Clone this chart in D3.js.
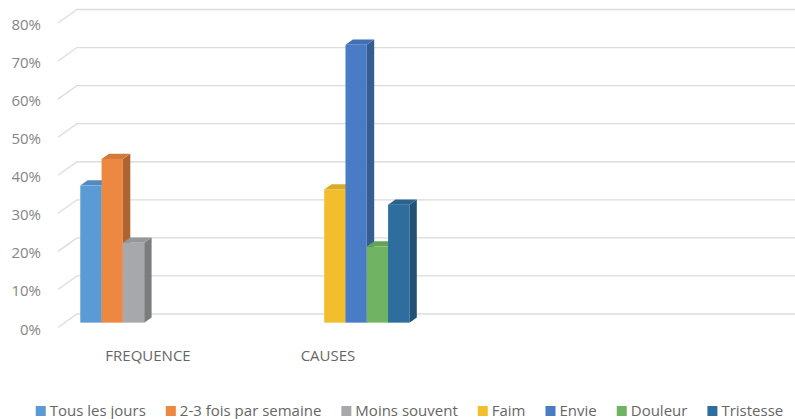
<!DOCTYPE html>
<html lang="fr">
<head>
  <meta charset="UTF-8">
  <title>Fréquence et causes</title>
  <script src="https://d3js.org/d3.v7.min.js"></script>
  <style>
    body {
      margin: 0;
      background: #fff;
      font-family: "Open Sans", sans-serif;
    }
    .tick-label { font-size: 15px; fill: #858585; }
    .cat-label { font-size: 15px; fill: #666; }
    .legend text { font-size: 15px; fill: #666; }
    .grid { stroke: #dcdcdc; stroke-width: 1.3; fill: none; }
  </style>
</head>
<body>
  <svg width="795" height="419"></svg>

  <script>
    // data
    const categories = ["FREQUENCE", "CAUSES", "", ""];
    const seriesNames = ["Tous les jours", "2-3 fois par semaine", "Moins souvent", "Faim", "Envie", "Douleur", "Tristesse"];
    const seriesValues = [
      [0.36, null, null, null],
      [0.43, null, null, null],
      [0.21, null, null, null],
      [null, 0.35, null, null],
      [null, 0.73, null, null],
      [null, 0.20, null, null],
      [null, 0.31, null, null]
    ];
    const yTicks = [0, 0.1, 0.2, 0.3, 0.4, 0.5, 0.6, 0.7, 0.8];
    const colors = ["#5b9bd5", "#ec8842", "#a6a8ab", "#f2be2e", "#4a7cc6", "#70b463", "#2e6e9e"];

    const svg = d3.select("svg");

    // front plane + depth offset (pseudo 3D)
    const depthX = 19, depthY = -13.5;
    const barD0 = 0.36, barD1 = 0.75;
    const proj = (x, y, d) => [x + depthX * d, y + depthY * d];

    const x0 = d3.scaleBand()
      .domain(d3.range(categories.length))
      .range([58, 778]);

    const gapRatio = 1.45;
    const step = x0.bandwidth() / (seriesNames.length + gapRatio);
    const x1 = d3.scaleBand()
      .domain(d3.range(seriesNames.length))
      .range([step * gapRatio / 2, x0.bandwidth() - step * gapRatio / 2]);

    const y = d3.scaleLinear()
      .domain([0, 0.8])
      .range([327.5, 23]);

    // gridlines: front diagonal + back wall line
    yTicks.forEach(t => {
      const a = proj(x0.range()[0], y(t), 0);
      const b = proj(x0.range()[0], y(t), 1);
      const c = proj(x0.range()[1], y(t), 1);
      svg.append("path")
        .attr("class", "grid")
        .attr("d", d3.line()([a, b, c]));
    });

    // y labels
    svg.append("g").selectAll("text")
      .data(yTicks)
      .join("text")
      .attr("class", "tick-label")
      .attr("x", 41)
      .attr("y", d => y(d) + 3)
      .attr("text-anchor", "end")
      .attr("dominant-baseline", "middle")
      .text(d3.format(".0%"));

    // category labels
    svg.append("g").selectAll("text")
      .data(categories)
      .join("text")
      .attr("class", "cat-label")
      .attr("x", (d, i) => x0(i) + x0.bandwidth() / 2)
      .attr("y", 357)
      .attr("text-anchor", "middle")
      .attr("dominant-baseline", "middle")
      .text(d => d);

    // bars
    const bars = [];
    categories.forEach((c, ci) => {
      seriesNames.forEach((s, si) => {
        const v = seriesValues[si][ci];
        if (v != null) bars.push({ci, si, v});
      });
    });

    const poly = pts => "M" + pts.map(p => p.join(",")).join("L") + "Z";

    const gBars = svg.append("g");
    bars.forEach(b => {
      const xl = x0(b.ci) + x1(b.si);
      const xr = xl + x1.bandwidth();
      const yt = y(b.v), yb = y(0);
      const col = d3.color(colors[b.si]);
      const g = gBars.append("g");
      // side
      g.append("path")
        .attr("d", poly([proj(xr, yt, barD0), proj(xr, yt, barD1), proj(xr, yb, barD1), proj(xr, yb, barD0)]))
        .attr("fill", col.darker(0.85));
      // top
      g.append("path")
        .attr("d", poly([proj(xl, yt, barD0), proj(xr, yt, barD0), proj(xr, yt, barD1), proj(xl, yt, barD1)]))
        .attr("fill", col.darker(0.3));
      // front
      const f0 = proj(xl, yt, barD0);
      g.append("rect")
        .attr("x", f0[0])
        .attr("y", f0[1])
        .attr("width", xr - xl)
        .attr("height", yb - yt)
        .attr("fill", colors[b.si]);
    });

    // legend
    const legend = svg.append("g").attr("class", "legend");
    const items = legend.selectAll("g")
      .data(seriesNames)
      .join("g");
    items.append("rect")
      .attr("width", 10)
      .attr("height", 10)
      .attr("y", -5)
      .attr("fill", (d, i) => colors[i]);
    items.append("text")
      .attr("x", 14)
      .attr("dominant-baseline", "middle")
      .attr("y", 1)
      .text(d => d);

    let cx = 0;
    const itemGap = 20;
    items.each(function() {
      const w = 14 + this.querySelector("text").getComputedTextLength();
      d3.select(this).attr("transform", `translate(${cx},0)`);
      cx += w + itemGap;
    });
    const total = cx - itemGap;
    legend.attr("transform", `translate(${409.5 - total / 2},411)`);
  </script>
</body>
</html>
